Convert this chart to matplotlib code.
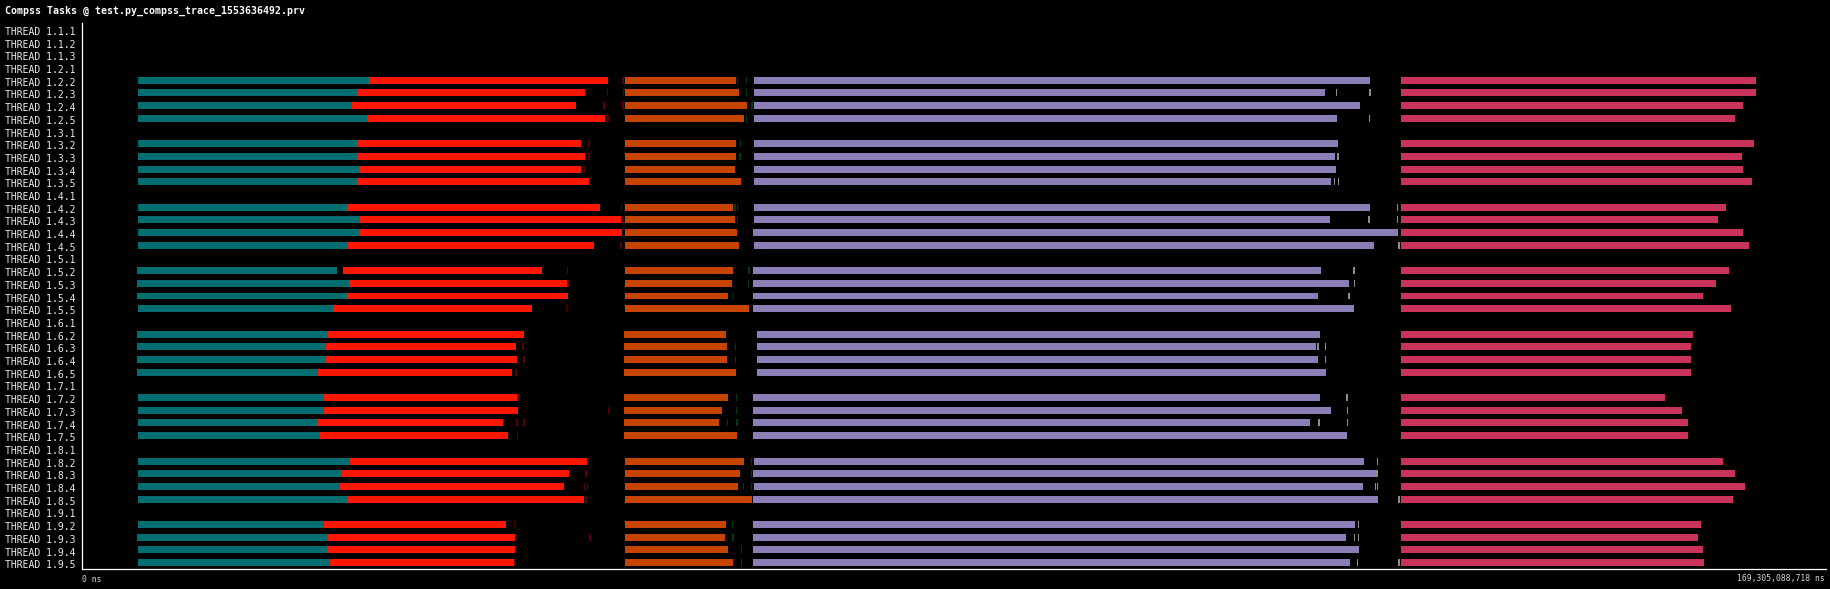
import matplotlib
matplotlib.use('Agg')
import matplotlib.pyplot as plt
import matplotlib.transforms as mtransforms
import numpy as np

W, H = 1831, 589
t_end = 169.305088718  # s (169,305,088,718 ns)

# thread rows, top to bottom
threads = ['1.1.1', '1.1.2', '1.1.3'] + ['1.%d.%d' % (n, c) for n in range(2, 10) for c in range(1, 6)]

# rows that have tasks (all times in seconds)
active = ['1.2.2', '1.2.3', '1.2.4', '1.2.5', '1.3.2', '1.3.3', '1.3.4', '1.3.5',
          '1.4.2', '1.4.3', '1.4.4', '1.4.5', '1.5.2', '1.5.3', '1.5.4', '1.5.5',
          '1.6.2', '1.6.3', '1.6.4', '1.6.5', '1.7.2', '1.7.3', '1.7.4', '1.7.5',
          '1.8.2', '1.8.3', '1.8.4', '1.8.5', '1.9.2', '1.9.3', '1.9.4', '1.9.5']

teal_start = [5.40, 5.40, 5.40, 5.40, 5.40, 5.40, 5.40, 5.40,
              5.40, 5.40, 5.40, 5.40, 5.32, 5.32, 5.32, 5.40,
              5.32, 5.32, 5.32, 5.32, 5.40, 5.40, 5.40, 5.40,
              5.40, 5.40, 5.40, 5.40, 5.40, 5.32, 5.40, 5.40]
teal_end = [27.84, 26.65, 26.20, 27.69, 26.72, 26.72, 26.87, 26.72,
            25.68, 26.95, 26.87, 25.68, 24.72, 25.91, 25.68, 24.35,
            23.83, 23.68, 23.68, 22.93, 23.53, 23.53, 22.86, 23.08,
            25.98, 25.16, 25.01, 25.76, 23.45, 23.83, 23.83, 24.05]
red_start = [27.84, 26.65, 26.20, 27.69, 26.72, 26.72, 26.87, 26.72,
             25.68, 26.95, 26.87, 25.68, 25.31, 25.91, 25.68, 24.35,
             23.83, 23.68, 23.68, 22.93, 23.53, 23.53, 22.86, 23.08,
             25.98, 25.16, 25.01, 25.76, 23.45, 23.83, 23.83, 24.05]
red_end = [51.06, 48.79, 47.94, 50.76, 48.42, 48.79, 48.42, 49.20,
           50.28, 52.32, 52.40, 49.68, 44.63, 47.05, 47.16, 43.67,
           42.89, 42.11, 42.22, 41.73, 42.22, 42.29, 40.84, 41.33,
           49.02, 47.27, 46.79, 48.72, 41.14, 42.03, 42.03, 41.92]
orange_start = [52.69] * 16 + [52.58] * 8 + [52.69] * 8
orange_end = [63.49, 63.74, 64.53, 64.24, 63.49, 63.49, 63.39, 63.94,
              63.20, 63.39, 63.59, 63.74, 63.20, 63.10, 62.70, 64.73,
              62.50, 62.60, 62.60, 63.49, 62.70, 62.11, 61.81, 63.59,
              64.24, 63.84, 63.64, 65.03, 62.50, 62.40, 62.70, 63.20]
purple_start = [65.23, 65.23, 65.23, 65.23, 65.23, 65.23, 65.23, 65.23,
                65.23, 65.23, 65.13, 65.23, 65.13, 65.13, 65.13, 65.13,
                65.52, 65.52, 65.52, 65.52, 65.13, 65.13, 65.13, 65.13,
                65.23, 65.13, 65.23, 65.13, 65.13, 65.13, 65.13, 65.13]
purple_end = [125.03, 120.66, 124.06, 121.84, 121.91, 121.65, 121.75, 121.25,
              125.03, 121.16, 127.74, 125.42, 120.26, 122.99, 119.97, 123.47,
              120.16, 119.77, 119.97, 120.76, 120.16, 121.25, 119.22, 122.79,
              124.44, 125.60, 124.34, 125.80, 123.57, 122.70, 123.96, 123.10]
crimson_start = [128.03] * 32
crimson_end = [162.52, 162.52, 161.24, 160.48, 162.33, 161.14, 161.24, 162.13,
               159.60, 158.81, 161.24, 161.83, 159.89, 158.61, 157.36, 160.09,
               156.37, 156.21, 156.21, 156.21, 153.68, 155.32, 155.92, 155.92,
               159.30, 160.48, 161.44, 160.29, 157.16, 156.87, 157.36, 157.46]

# tiny events (short bursts) drawn as thin marks
red_ticks = [[52.52], [50.99, 52.58], [50.68, 52.53], [51.06], [49.24], [49.24], [48.76], [],
             [52.38], [52.48], [], [52.33], [47.12], [47.16], [], [47.05],
             [], [42.81], [42.92], [42.14], [42.33], [51.12], [42.22, 42.92], [42.29],
             [], [48.94], [48.76, 49.05], [48.91], [41.96], [49.31], [], [42.03]]
green_ticks = [[63.64, 64.53], [64.53], [65.03], [64.53], [63.94], [63.89], [], [],
               [63.39, 63.64], [63.64], [], [], [64.73], [64.68], [63.15], [],
               [], [63.44], [63.44], [], [63.54], [63.54], [62.65, 63.59], [],
               [64.98], [64.98], [64.24, 64.98], [], [63.15], [63.20], [64.04], [64.04]]
gray_ticks = [[], [121.80, 125.05], [], [125.00], [], [121.90], [], [121.58, 121.97],
              [127.69], [124.97, 127.72], [], [127.84], [123.47], [123.53], [122.99], [],
              [], [119.96, 120.71], [120.71], [], [122.78], [122.84], [120.11, 122.84], [],
              [125.75], [125.70], [125.56, 125.76], [127.85], [123.91], [123.53, 123.92], [], [123.81, 127.85]]

c_teal = '#006e70'
c_red = '#ff1600'
c_orange = '#c64400'
c_purple = '#8b7db5'
c_crimson = '#c9335a'
c_redtick = '#5c0000'
c_greentick = '#003c10'
c_graytick = '#8c8c8c'
c_text = '#ececec'

plt.rcParams['font.family'] = ['DejaVu Sans Mono']

fig = plt.figure(figsize=(W / 100, H / 100), dpi=100, facecolor='black')
ax = fig.add_axes([82 / W, 20 / H, (1826 - 82) / W, (569 - 23) / H], facecolor='black')

bar_h = 0.55
ys = np.array([threads.index(t) + 0.5 for t in active])
teal_start, teal_end = np.array(teal_start), np.array(teal_end)
red_start, red_end = np.array(red_start), np.array(red_end)
orange_start, orange_end = np.array(orange_start), np.array(orange_end)
purple_start, purple_end = np.array(purple_start), np.array(purple_end)
crimson_start, crimson_end = np.array(crimson_start), np.array(crimson_end)

for s, e, c in [(teal_start, teal_end, c_teal), (red_start, red_end, c_red),
                (orange_start, orange_end, c_orange), (purple_start, purple_end, c_purple),
                (crimson_start, crimson_end, c_crimson)]:
    ax.barh(ys, e - s, left=s, height=bar_h, color=c, linewidth=0)

for ticks, c, w in [(red_ticks, c_redtick, 0.14), (green_ticks, c_greentick, 0.14),
                    (gray_ticks, c_graytick, 0.16)]:
    for y, tt in zip(ys, ticks):
        for t in tt:
            ax.barh(y, w, left=t - w / 2, height=bar_h, color=c, linewidth=0)

ax.set_xlim(0, t_end)
ax.set_ylim(len(threads), 0)
ax.set_xticks([])
ax.set_yticks([])
for side in ['top', 'right']:
    ax.spines[side].set_visible(False)
for side in ['left', 'bottom']:
    ax.spines[side].set_color('white')
    ax.spines[side].set_linewidth(0.9)

# thread labels on the left edge of the figure
trans = mtransforms.blended_transform_factory(fig.transFigure, ax.transData)
for i, t in enumerate(threads):
    ax.text(5 / W, i + 0.94, 'THREAD ' + t, transform=trans, ha='left', va='baseline',
            fontsize=7.05, color=c_text, clip_on=False)

fig.text(5 / W, 1 - 11 / H, 'Compss Tasks @ test.py_compss_trace_1553636492.prv',
         ha='left', va='center', fontsize=7.1, fontweight='bold', color='white')
fig.text(82 / W, 1 - 581.5 / H, '0 ns', ha='left', va='baseline', fontsize=5.8, color='#d8d8d8')
fig.text(1825 / W, 1 - 581.5 / H, '{:,} ns'.format(169305088718), ha='right', va='baseline',
         fontsize=5.8, color='#d8d8d8')

fig.savefig('out.png', dpi=100, facecolor='black')
